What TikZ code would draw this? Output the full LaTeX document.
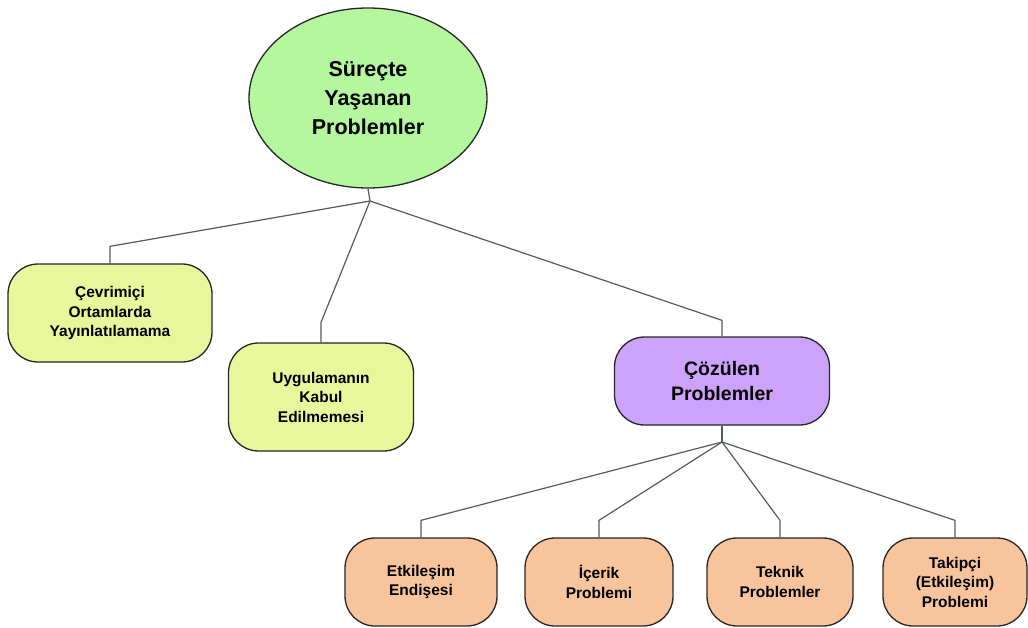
\documentclass[tikz,border=0pt]{standalone}
\usepackage{fontspec}
\setmainfont{Liberation Sans}
\usetikzlibrary{shapes.geometric}

\definecolor{rootgreen}{HTML}{B4F79E}
\definecolor{leafyellow}{HTML}{E8F79C}
\definecolor{midpurple}{HTML}{CDA2FA}
\definecolor{leaforange}{HTML}{F8C49C}
\definecolor{linkgray}{HTML}{555B5B}

\tikzset{
  rootnode/.style={ellipse, draw=black!85, line width=1.3pt, fill=rootgreen,
    minimum width=238pt, minimum height=180pt, inner sep=0pt, align=center,
    font=\fontsize{21.5}{29}\selectfont\bfseries},
  probbox/.style={rectangle, rounded corners=30pt, draw=black!85, line width=1.3pt,
    inner sep=0pt, align=center, font=\fontsize{15.5}{19.5}\selectfont\bfseries},
  link/.style={draw=linkgray, line width=1.2pt}
}

\begin{document}
\begin{tikzpicture}[x=1pt,y=-1pt]
    \useasboundingbox (0,0) rectangle (1028,628);
    % Draw the root and its branching point.
    \node[rootnode] (root) at (368,98) {Süreçte\\Yaşanan\\Problemler};
    \coordinate (rootfork) at (370,201);

    % Draw the first level of problems.
    \node[probbox, fill=leafyellow, minimum width=204pt, minimum height=98pt] (cevrimici) at (110,313) {Çevrimiçi\\Ortamlarda\\Yayınlatılamama};
    \node[probbox, fill=leafyellow, minimum width=185pt, minimum height=108pt] (kabul) at (321,397) {Uygulamanın\\Kabul\\Edilmemesi};
    \node[probbox, fill=midpurple, minimum width=215pt, minimum height=88pt,
      font=\fontsize{19.5}{25}\selectfont\bfseries] (cozulen) at (722,381) {Çözülen\\Problemler};
    \coordinate (cozulenfork) at (722,442);

    % Draw the solved problems.
    \node[probbox, fill=leaforange, minimum width=152pt, minimum height=88pt] (etkilesim) at (421,582) {Etkileşim\\Endişesi};
    \node[probbox, fill=leaforange, minimum width=148pt, minimum height=88pt] (icerik) at (599,582) {İçerik\\Problemi};
    \node[probbox, fill=leaforange, minimum width=146pt, minimum height=88pt] (teknik) at (780,582) {Teknik\\Problemler};
    \node[probbox, fill=leaforange, minimum width=144pt, minimum height=88pt] (takipci) at (955,582) {Takipçi\\(Etkileşim)\\Problemi};

    % Draw the connectors.
    \draw[link] (root.south) -- (rootfork);
    \draw[link] (rootfork) -- ([yshift=17pt]cevrimici.north) -- (cevrimici.north);
    \draw[link] (rootfork) -- ([yshift=20pt]kabul.north) -- (kabul.north);
    \draw[link] (rootfork) -- ([yshift=16pt]cozulen.north) -- (cozulen.north);
    \draw[link] (cozulen.south) -- (cozulenfork);
    \draw[link] (cozulenfork) -- ([yshift=17pt]etkilesim.north) -- (etkilesim.north);
    \draw[link] (cozulenfork) -- ([yshift=17pt]icerik.north) -- (icerik.north);
    \draw[link] (cozulenfork) -- ([yshift=17pt]teknik.north) -- (teknik.north);
    \draw[link] (cozulenfork) -- ([yshift=17pt]takipci.north) -- (takipci.north);
\end{tikzpicture}
\end{document}
